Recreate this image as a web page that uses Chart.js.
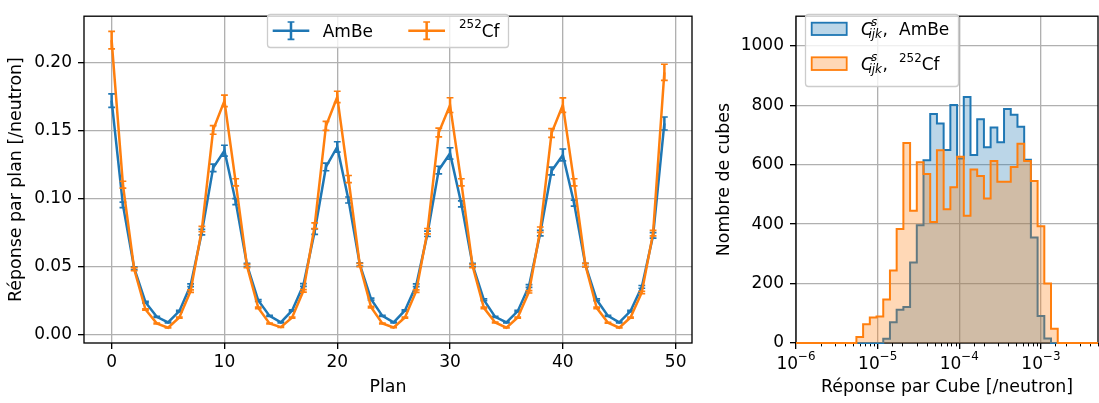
<!DOCTYPE html>
<html><head><meta charset="utf-8">
<script src="https://cdn.jsdelivr.net/npm/chart.js@4.4.1/dist/chart.umd.min.js"></script>
<style>
html,body{margin:0;padding:0;background:#fff;width:1099px;height:403px;overflow:hidden}
#left{position:absolute;left:0;top:0}
#right{position:absolute;left:700px;top:0}
</style></head><body>
<canvas id="left" width="700" height="403"></canvas>
<canvas id="right" width="399" height="403"></canvas>
<script>
// ---------- Left panel data ----------
const planIdx = [0,1,2,3,4,5,6,7,8,9,10,11,12,13,14,15,16,17,18,19,20,21,22,23,24,25,26,27,28,29,30,31,32,33,34,35,36,37,38,39,40,41,42,43,44,45,46,47,48,49];
const ambeResp = [0.1718,0.0952,0.0487,0.0238,0.0130,0.0089,0.0172,0.0362,0.0752,0.1224,
                  0.1350,0.0976,0.0511,0.0250,0.0137,0.0089,0.0177,0.0364,0.0756,0.1231,
                  0.1378,0.0988,0.0515,0.0260,0.0137,0.0089,0.0177,0.0362,0.0740,0.1208,
                  0.1330,0.0960,0.0511,0.0255,0.0130,0.0089,0.0172,0.0357,0.0745,0.1201,
                  0.1319,0.0965,0.0511,0.0255,0.0137,0.0089,0.0172,0.0350,0.0728,0.1550];
const ambeErr = [0.0050,0.0020,0.0010,0.0006,0.0004,0.0003,0.0005,0.0010,0.0020,0.0028,
                 0.0040,0.0022,0.0012,0.0007,0.0004,0.0003,0.0005,0.0010,0.0020,0.0028,
                 0.0038,0.0022,0.0012,0.0007,0.0004,0.0003,0.0005,0.0010,0.0020,0.0028,
                 0.0042,0.0022,0.0012,0.0007,0.0004,0.0003,0.0005,0.0010,0.0020,0.0028,
                 0.0044,0.0022,0.0012,0.0007,0.0004,0.0003,0.0005,0.0010,0.0020,0.0048];
const cfResp = [0.2162,0.1101,0.0480,0.0184,0.0082,0.0050,0.0125,0.0319,0.0775,0.1503,
                0.1716,0.1118,0.0503,0.0196,0.0082,0.0054,0.0125,0.0321,0.0799,0.1532,
                0.1745,0.1142,0.0511,0.0201,0.0082,0.0052,0.0125,0.0319,0.0759,0.1484,
                0.1685,0.1118,0.0503,0.0196,0.0089,0.0050,0.0125,0.0314,0.0770,0.1480,
                0.1685,0.1118,0.0511,0.0196,0.0087,0.0050,0.0125,0.0309,0.0745,0.1926];
const cfErr = [0.0064,0.0025,0.0011,0.0005,0.0003,0.0002,0.0004,0.0009,0.0020,0.0032,
               0.0042,0.0026,0.0012,0.0006,0.0003,0.0002,0.0004,0.0009,0.0021,0.0033,
               0.0042,0.0026,0.0012,0.0006,0.0003,0.0002,0.0004,0.0009,0.0020,0.0032,
               0.0054,0.0026,0.0012,0.0006,0.0003,0.0002,0.0004,0.0009,0.0020,0.0032,
               0.0053,0.0026,0.0012,0.0006,0.0003,0.0002,0.0004,0.0009,0.0020,0.0059];
const planTicks = [0,10,20,30,40,50];
const respTicks = [0,0.05,0.10,0.15,0.20];

// ---------- Right panel data (histograms) ----------
const histBinCount = 45;
const histLogMin = -6;
const histLogMax = Math.log10(5e-3);
const ambeCounts = [0,0,0,0,0,0,0,0,0,0,0,0,0,14,70,112,121,271,396,615,771,739,650,801,621,828,633,753,659,725,676,788,768,728,617,355,91,15,0,0,0,0,0,0,0];
const cfCounts   = [0,0,0,0,0,0,0,0,0,20,63,86,89,146,244,384,673,445,608,569,407,649,450,524,627,428,584,562,486,613,543,543,592,671,613,545,393,200,48,0,0,0,0,0,0];
const countTicks = [0,200,400,600,800,1000];
const decadeExps = [-6,-5,-4,-3];

const binEdges = Array.from({length: histBinCount + 1},
  (_, i) => Math.pow(10, histLogMin + i * (histLogMax - histLogMin) / histBinCount));

// ---------- Styling ----------
const BLUE = '#1f77b4', ORANGE = '#ff7f0e';
const FONT = "'DejaVu Sans'";
const FS = 17.0, FS_TITLE = 17.4, FS_SMALL = 11.9;
Chart.defaults.font.family = FONT;
Chart.defaults.font.size = FS;
Chart.defaults.color = '#000';

const isPow10 = v => { const l = Math.log10(v); return Math.abs(l - Math.round(l)) < 1e-6; };

function drawRich(ctx, segs) {
  let cx = 0;
  segs.forEach(s => {
    const px = s.x !== undefined ? s.x : cx;
    ctx.font = (s.italic ? 'italic ' : '') + s.size + 'px ' + FONT;
    ctx.fillStyle = '#000';
    ctx.textBaseline = 'alphabetic';
    ctx.textAlign = 'left';
    ctx.fillText(s.text, px, s.y);
    cx = px + ctx.measureText(s.text).width;
  });
}
function legendBox(ctx, x, y, w, h) {
  ctx.save();
  ctx.beginPath();
  ctx.roundRect(x + 0.5, y + 0.5, w, h, 3);
  ctx.fillStyle = 'rgba(255,255,255,0.8)';
  ctx.fill();
  ctx.strokeStyle = '#cccccc';
  ctx.lineWidth = 1.3;
  ctx.stroke();
  ctx.restore();
}

function spines(chart) {
  const {ctx, chartArea: a} = chart;
  ctx.save();
  ctx.strokeStyle = '#000';
  ctx.lineWidth = 1.33;
  ctx.strokeRect(a.left, a.top, a.right - a.left, a.bottom - a.top);
  ctx.restore();
}

const errorBarPlugin = {
  id: 'errbars',
  afterDatasetDraw(chart, args) {
    const ds = chart.data.datasets[args.index];
    if (!ds.errors) return;
    const ctx = chart.ctx, xs = chart.scales.x, ys = chart.scales.y;
    ctx.save();
    ctx.strokeStyle = ds.borderColor;
    ctx.lineCap = 'butt';
    ds.data.forEach((p, i) => {
      const px = xs.getPixelForValue(p.x);
      const t = ys.getPixelForValue(p.y + ds.errors[i]);
      const b = ys.getPixelForValue(p.y - ds.errors[i]);
      ctx.lineWidth = 2.5;
      ctx.beginPath(); ctx.moveTo(px, t); ctx.lineTo(px, b); ctx.stroke();
      ctx.lineWidth = 1.67;
      ctx.beginPath();
      ctx.moveTo(px - 3.4, t); ctx.lineTo(px + 3.4, t);
      ctx.moveTo(px - 3.4, b); ctx.lineTo(px + 3.4, b);
      ctx.stroke();
    });
    ctx.restore();
  }
};

const leftDecor = {
  id: 'leftDecor',
  afterDatasetsDraw(chart) { spines(chart); },
  afterDraw(chart) {
    const ctx = chart.ctx;
    legendBox(ctx, 267, 14, 241, 33);
    const icon = (x0, x1, color) => {
      const cy = 30.7, cx = (x0 + x1) / 2;
      ctx.save();
      ctx.strokeStyle = color;
      ctx.lineWidth = 2.5;
      ctx.beginPath(); ctx.moveTo(x0, cy); ctx.lineTo(x1, cy); ctx.stroke();
      ctx.beginPath(); ctx.moveTo(cx, 22); ctx.lineTo(cx, 39.3); ctx.stroke();
      ctx.lineWidth = 1.67;
      ctx.beginPath();
      ctx.moveTo(cx - 3.4, 22); ctx.lineTo(cx + 3.4, 22);
      ctx.moveTo(cx - 3.4, 39.3); ctx.lineTo(cx + 3.4, 39.3);
      ctx.stroke();
      ctx.restore();
    };
    icon(272.7, 309.3, BLUE);
    drawRich(ctx, [{text: 'AmBe', size: FS, x: 322.7, y: 36.7}]);
    icon(408.3, 445, ORANGE);
    drawRich(ctx, [{text: '252', size: FS_SMALL, x: 459, y: 28.3}, {text: 'Cf', size: FS, y: 36.7}]);
  }
};

const rightDecor = {
  id: 'rightDecor',
  beforeDatasetsDraw(chart) {
    spines(chart);
    const ctx = chart.ctx, xs = chart.scales.x, a = chart.chartArea;
    ctx.save();
    ctx.strokeStyle = '#000';
    ctx.lineWidth = 1;
    xs.ticks.forEach(t => {
      if (isPow10(t.value)) return;
      const px = Math.round(xs.getPixelForValue(t.value)) + 0.5;
      ctx.beginPath(); ctx.moveTo(px, a.bottom); ctx.lineTo(px, a.bottom + 3.4); ctx.stroke();
    });
    ctx.restore();
  },
  afterDraw(chart) {
    const ctx = chart.ctx, xs = chart.scales.x;
    // decade tick labels 10^n
    decadeExps.forEach(e => {
      const px = xs.getPixelForValue(Math.pow(10, e));
      const expTxt = (e < 0 ? '\u2212' : '') + Math.abs(e);
      ctx.font = FS + 'px ' + FONT;
      const w1 = ctx.measureText('10').width;
      ctx.font = FS_SMALL + 'px ' + FONT;
      const w2 = ctx.measureText(expTxt).width;
      const x0 = px - (w1 + w2) / 2;
      drawRich(ctx, [{text: '10', size: FS, x: x0, y: 369.3}, {text: expTxt, size: FS_SMALL, y: 360}]);
    });
    legendBox(ctx, 105, 14, 153, 72);
    const patch = (y, h, fill, stroke) => {
      ctx.save();
      ctx.fillStyle = fill; ctx.fillRect(111.7, y, 35, h);
      ctx.strokeStyle = stroke; ctx.lineWidth = 1.8; ctx.strokeRect(111.7, y, 35, h);
      ctx.restore();
    };
    patch(22.7, 12.3, 'rgba(31,119,180,0.3)', BLUE);
    patch(57.3, 12.7, 'rgba(255,127,14,0.3)', ORANGE);
    const cijk = dy => {
      drawRich(ctx, [{text: 'C', size: FS, italic: true, x: 161, y: 35 + dy}]);
      drawRich(ctx, [{text: 's', size: FS_SMALL, italic: true, x: 171, y: 26 + dy}]);
      drawRich(ctx, [{text: 'ijk', size: FS_SMALL, italic: true, x: 168.5, y: 37.5 + dy}]);
      drawRich(ctx, [{text: ',', size: FS, x: 182.5, y: 35 + dy}]);
    };
    cijk(0);
    drawRich(ctx, [{text: 'AmBe', size: FS, x: 199, y: 35}]);
    cijk(35);
    drawRich(ctx, [{text: '252', size: FS_SMALL, x: 199, y: 62}, {text: 'Cf', size: FS, y: 70}]);
  }
};

const gridBase = {color: '#b0b0b0', lineWidth: 1.33, tickColor: '#000', tickWidth: 1.33, tickLength: 6, drawTicks: true};

// ---------- Left chart ----------
new Chart(document.getElementById('left'), {
  type: 'line',
  data: {
    datasets: [
      {label: '²⁵²Cf', data: planIdx.map((x, i) => ({x, y: cfResp[i]})), errors: cfErr,
       borderColor: ORANGE, backgroundColor: ORANGE, borderWidth: 2.5, pointRadius: 0, tension: 0, order: 0},
      {label: 'AmBe', data: planIdx.map((x, i) => ({x, y: ambeResp[i]})), errors: ambeErr,
       borderColor: BLUE, backgroundColor: BLUE, borderWidth: 2.5, pointRadius: 0, tension: 0, order: 1}
    ]
  },
  options: {
    responsive: false, animation: false, devicePixelRatio: 1,
    layout: {padding: {left: 0, right: 8, top: 5, bottom: 0}},
    plugins: {legend: {display: false}, tooltip: {enabled: false}},
    scales: {
      x: {
        type: 'linear', min: -2.45, max: 51.45,
        afterBuildTicks: s => { s.ticks = planTicks.map(v => ({value: v})); },
        afterFit: s => { s.height = 60; },
        ticks: {callback: v => String(v), padding: 3, autoSkip: false, maxRotation: 0},
        grid: gridBase, border: {display: false},
        title: {display: true, text: 'Plan', font: {size: FS_TITLE}, padding: {top: 0, bottom: 4.6}}
      },
      y: {
        type: 'linear', min: -0.0062, max: 0.2338,
        afterBuildTicks: s => { s.ticks = respTicks.map(v => ({value: v})); },
        afterFit: s => { s.width = 84; },
        ticks: {callback: v => Number(v).toFixed(2), padding: 6, autoSkip: false},
        grid: gridBase, border: {display: false},
        title: {display: true, text: 'Réponse par plan [/neutron]', font: {size: FS_TITLE}, padding: {top: 6.5, bottom: 0}}
      }
    }
  },
  plugins: [errorBarPlugin, leftDecor]
});

// ---------- Right chart ----------
const histPoints = counts => binEdges.map((e, i) => ({x: e, y: counts[Math.min(i, histBinCount - 1)]}));
new Chart(document.getElementById('right'), {
  type: 'line',
  data: {
    datasets: [
      {label: 'Cˢᵢⱼₖ, ²⁵²Cf', data: histPoints(cfCounts), stepped: 'before', fill: 'origin',
       borderColor: ORANGE, backgroundColor: 'rgba(255,127,14,0.3)', borderWidth: 2, pointRadius: 0, order: 0,
       clip: {left: 0, top: 0, right: 1, bottom: 3}},
      {label: 'Cˢᵢⱼₖ, AmBe', data: histPoints(ambeCounts), stepped: 'before', fill: 'origin',
       borderColor: BLUE, backgroundColor: 'rgba(31,119,180,0.3)', borderWidth: 2, pointRadius: 0, order: 1,
       clip: {left: 0, top: 0, right: 1, bottom: 3}}
    ]
  },
  options: {
    responsive: false, animation: false, devicePixelRatio: 1,
    layout: {padding: {left: 0, right: 1, top: 5, bottom: 0}},
    plugins: {legend: {display: false}, tooltip: {enabled: false}},
    scales: {
      x: {
        type: 'logarithmic', min: 1e-6, max: 5e-3,
        afterFit: s => { s.height = 60; },
        ticks: {display: false, autoSkip: false, maxRotation: 0, minRotation: 0},
        grid: Object.assign({}, gridBase, {
          color: c => (c.tick && isPow10(c.tick.value)) ? '#b0b0b0' : 'rgba(0,0,0,0)',
          tickColor: c => (c.tick && isPow10(c.tick.value)) ? '#000' : 'rgba(0,0,0,0)'
        }),
        border: {display: false},
        title: {display: true, text: 'Réponse par Cube [/neutron]', font: {size: FS_TITLE}, padding: {top: 0, bottom: 4.6}}
      },
      y: {
        type: 'linear', min: 0, max: 1100,
        afterBuildTicks: s => { s.ticks = countTicks.map(v => ({value: v})); },
        afterFit: s => { s.width = 96; },
        ticks: {callback: v => String(v), padding: 6, autoSkip: false},
        grid: gridBase, border: {display: false},
        title: {display: true, text: 'Nombre de cubes', font: {size: FS_TITLE}, padding: {top: 14, bottom: 0}}
      }
    }
  },
  plugins: [rightDecor]
});
</script>
</body></html>
